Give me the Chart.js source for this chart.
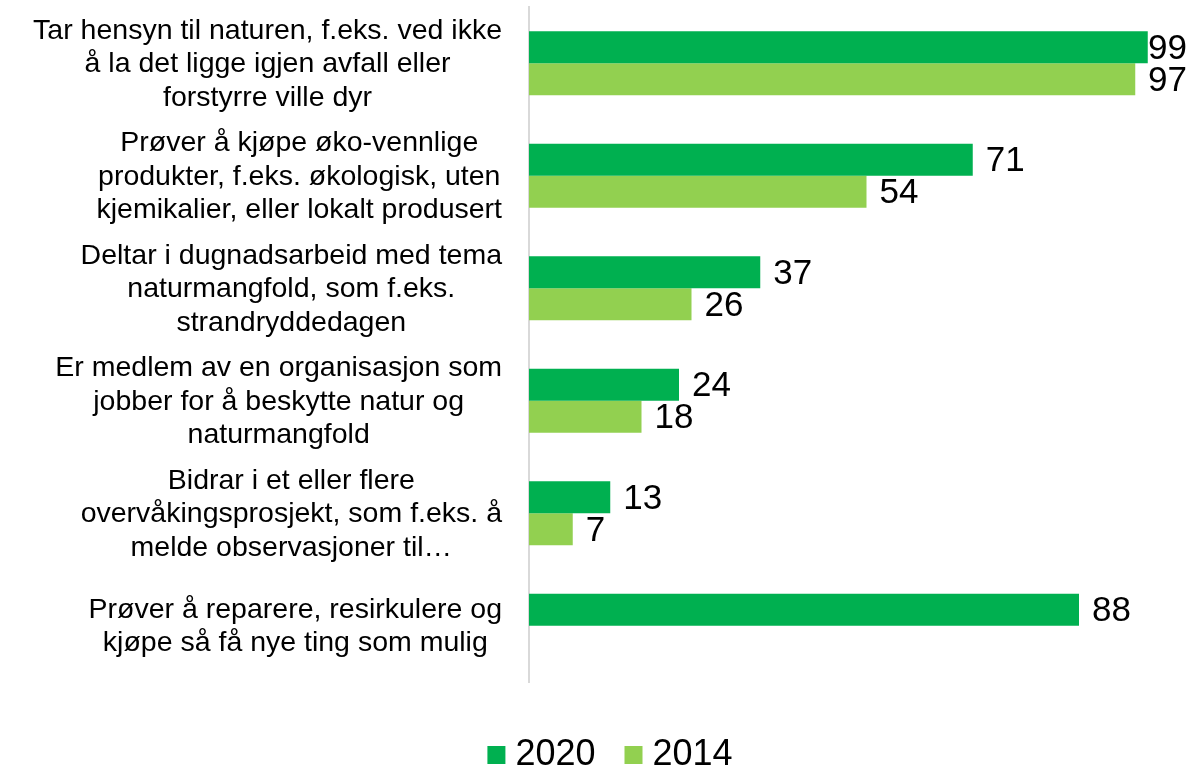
<!DOCTYPE html>
<html>
<head>
<meta charset="utf-8">
<script src="https://cdn.jsdelivr.net/npm/chart.js@4.4.0/dist/chart.umd.min.js"></script>
<style>
  html, body { margin: 0; padding: 0; background: #fff; }
  #wrap { width: 1191px; height: 768px; position: relative; }
</style>
</head>
<body>
<div id="wrap"><canvas id="chart"></canvas></div>
<script>
const categories = [
  ['Tar hensyn til naturen, f.eks. ved ikke', 'å la det ligge igjen avfall eller', 'forstyrre ville dyr'],
  ['Prøver å kjøpe øko-vennlige', 'produkter, f.eks. økologisk, uten', 'kjemikalier, eller lokalt produsert'],
  ['Deltar i dugnadsarbeid med tema', 'naturmangfold, som f.eks.', 'strandryddedagen'],
  ['Er medlem av en organisasjon som', 'jobber for å beskytte natur og', 'naturmangfold'],
  ['Bidrar i et eller flere', 'overvåkingsprosjekt, som f.eks. å', 'melde observasjoner til…'],
  ['Prøver å reparere, resirkulere og', 'kjøpe så få nye ting som mulig']
];
const seriesNames = ['2020', '2014'];
const values2020 = [99, 71, 37, 24, 13, 88];
const values2014 = [97, 54, 26, 18, 7, null];

const FONT = '"Liberation Sans", Arial, sans-serif';

// category labels: block right-aligned to the axis, lines centred inside it
const categoryLabels = {
  id: 'categoryLabels',
  afterDraw(chart) {
    const ctx = chart.ctx;
    const y = chart.scales.y;
    ctx.save();
    ctx.font = '28.5px ' + FONT;
    ctx.fillStyle = '#000';
    ctx.textAlign = 'center';
    ctx.textBaseline = 'middle';
    const right = 502, lh = 33.5;
    categories.forEach((lines, i) => {
      const w = Math.max(...lines.map(l => ctx.measureText(l).width));
      const cx = right - w / 2;
      const cy = y.getPixelForValue(i) + 1;
      lines.forEach((l, k) => {
        ctx.fillText(l, cx, cy + (k - (lines.length - 1) / 2) * lh);
      });
    });
    ctx.restore();
  }
};

// value labels at the bar ends
const valueLabels = {
  id: 'valueLabels',
  afterDatasetsDraw(chart) {
    const ctx = chart.ctx;
    ctx.save();
    ctx.font = '35px ' + FONT;
    ctx.fillStyle = '#000';
    ctx.textAlign = 'left';
    ctx.textBaseline = 'middle';
    chart.data.datasets.forEach((ds, di) => {
      chart.getDatasetMeta(di).data.forEach((bar, i) => {
        const v = ds.data[i];
        if (v == null) return;
        const txt = String(v);
        const w = ctx.measureText(txt).width;
        const x = Math.min(bar.x + 13, chart.width - 4 - w);
        ctx.fillText(txt, x, bar.y + 2);
      });
    });
    ctx.restore();
  }
};

// legend drawn like the original: small square, short gap, year
const bottomLegend = {
  id: 'bottomLegend',
  afterDraw(chart) {
    const ctx = chart.ctx;
    ctx.save();
    ctx.font = '36px ' + FONT;
    ctx.textBaseline = 'middle';
    ctx.textAlign = 'left';
    const sq = 18, gap = 10, space = 29;
    const items = chart.data.datasets.map(ds => ({ text: ds.label, color: ds.backgroundColor, w: ctx.measureText(ds.label).width }));
    const total = items.reduce((s, it) => s + sq + gap + it.w, 0) + space * (items.length - 1);
    let x = 610 - total / 2;
    const cy = 755;
    items.forEach(it => {
      ctx.fillStyle = it.color;
      ctx.fillRect(x, cy - sq / 2, sq, sq);
      ctx.fillStyle = '#000';
      ctx.fillText(it.text, x + sq + gap, cy);
      x += sq + gap + it.w + space;
    });
    ctx.restore();
  }
};

new Chart(document.getElementById('chart'), {
  type: 'bar',
  data: {
    labels: categories.map(c => c.join(' ')),
    datasets: [
      { label: seriesNames[0], data: values2020, backgroundColor: '#00B050' },
      { label: seriesNames[1], data: values2014, backgroundColor: '#92D050' }
    ]
  },
  options: {
    indexAxis: 'y',
    responsive: true,
    maintainAspectRatio: false,
    animation: false,
    layout: { padding: { left: 529, right: 37, top: 7, bottom: 86 } },
    datasets: { bar: { categoryPercentage: 0.571, barPercentage: 1 } },
    scales: {
      x: { min: 0, max: 100, display: false, grid: { display: false } },
      y: {
        ticks: { display: false },
        grid: { display: false, drawTicks: false },
        border: { display: true, color: '#d9d9d9', width: 2 }
      }
    },
    plugins: {
      legend: { display: false },
      tooltip: { enabled: false }
    }
  },
  plugins: [categoryLabels, valueLabels, bottomLegend]
});
</script>
</body>
</html>
